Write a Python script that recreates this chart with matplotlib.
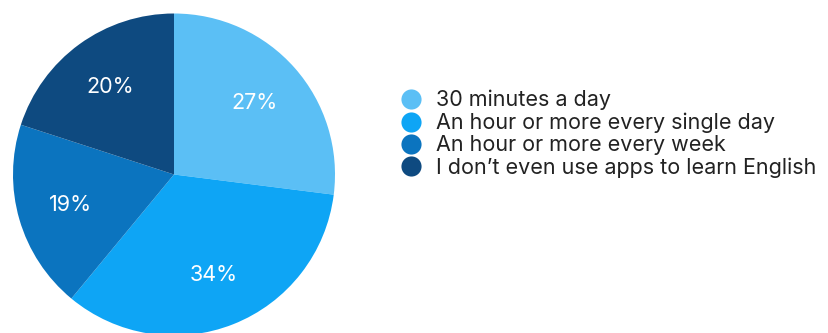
import matplotlib as mpl
mpl.use('Agg')
import matplotlib.pyplot as plt
from matplotlib.lines import Line2D

# survey answers, clockwise from 12 o'clock
labels = ['30 minutes a day',
          'An hour or more every single day',
          'An hour or more every week',
          'I don\u2019t even use apps to learn English']
shares = [27, 34, 19, 20]
colors = ['#5bbff5', '#0ea5f5', '#0b74bf', '#0e4a80']

plt.rcParams['font.family'] = ['Inter', 'DejaVu Sans']

fig = plt.figure(figsize=(8.29, 3.33), dpi=100)

# pie axes, square box placed in pixels (bottom is cut off a little)
ax = fig.add_axes([13 / 829, -2.5 / 333, 322 / 829, 322 / 333])
ax.pie(shares, colors=colors, startangle=90, counterclock=False,
       autopct='%d%%', pctdistance=0.67, radius=1,
       wedgeprops=dict(linewidth=0),
       textprops=dict(color='white', fontsize=15.5))
ax.set_xlim(-1, 1)
ax.set_ylim(-1, 1)
ax.set_aspect('equal')
ax.axis('off')

# legend with round markers
handles = [Line2D([], [], linestyle='none', marker='o', markersize=14.5,
                  markerfacecolor=c, markeredgewidth=0) for c in colors]
fig.legend(handles, labels, loc='upper left',
           bbox_to_anchor=(401 / 829, 1 - 90 / 333), frameon=False,
           fontsize=15.5, handlelength=0.94, handletextpad=0.7,
           labelspacing=0.1, borderpad=0, borderaxespad=0,
           labelcolor='#222222')

fig.savefig('out.png', dpi=100)
